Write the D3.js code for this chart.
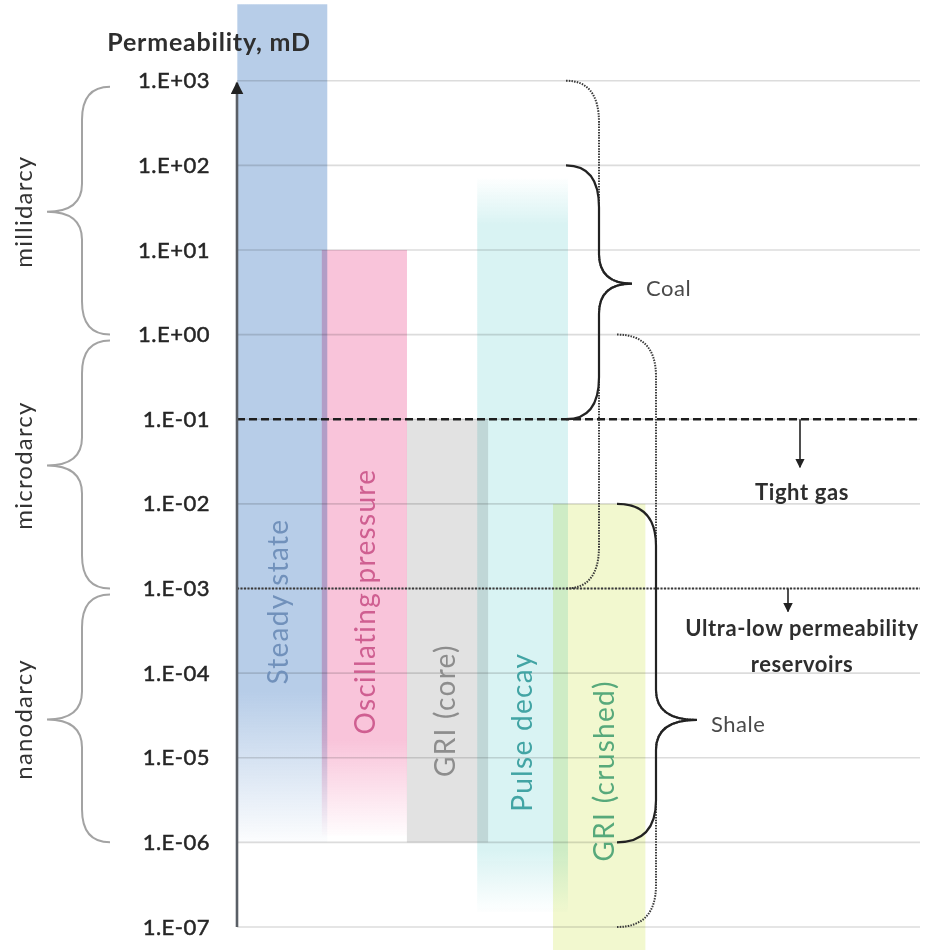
<!DOCTYPE html>
<html>
<head>
<meta charset="utf-8">
<script src="https://d3js.org/d3.v7.min.js"></script>
<style>
    body { margin: 0; background: #fff; }
    #chart-area text { font-family: Lato, "Open Sans", sans-serif; }
</style>
</head>
<body>
<div id="chart-area"></div>
<script>

// ---- data (permeability in mD) ----
let tickValues = [1e3, 1e2, 1e1, 1e0, 1e-1, 1e-2, 1e-3, 1e-4, 1e-5, 1e-6, 1e-7];
let tickLabels = ["1.E+03", "1.E+02", "1.E+01", "1.E+00", "1.E-01", "1.E-02", "1.E-03", "1.E-04", "1.E-05", "1.E-06", "1.E-07"];

let methods = ["Steady state", "Oscillating pressure", "GRI (core)", "Pulse decay", "GRI (crushed)"];
let methodMax = [8000, 10, 0.1, 70, 0.01];
let methodMin = [1e-6, 1.2e-6, 1e-6, 1.5e-7, 5e-8];
// where the colour starts to fade out (null = hard edge)
let methodFadeLow = [6e-5, 1.6e-5, null, 8e-7, null];
let methodFadeHigh = [null, null, null, 20, null];
// where the rotated label sits
let methodLabelAt = [7e-4, 7e-4, 3.6e-5, 2e-5, 7e-6];

// darcy ranges on the left
let darcyNames = ["millidarcy", "microdarcy", "nanodarcy"];
let darcyTop = [1e3, 1e0, 1e-3];
let darcyBottom = [1e0, 1e-3, 1e-6];

// rock types on the right: solid = typical range, dotted = full range
let rockNames = ["Coal", "Shale"];
let rockTip = [4, 2.8e-5];
let rockSolid = [[1e2, 1e-1], [1e-2, 1e-6]];
let rockDotted = [[1e3, 1e-3], [1e0, 1e-7]];

// threshold lines
let thresholdValues = [1e-1, 1e-3];
let thresholdLabels = [["Tight gas"], ["Ultra-low permeability", "reservoirs"]];


class PermeabilityVis {

    constructor(parentElement) {
        this.parentElement = parentElement;
        this.initVis();
    }

    initVis() {
        let vis = this;

        vis.width = 934;
        vis.height = 950;
        vis.axisX = 237;
        vis.right = 920;

        vis.svg = d3.select("#" + vis.parentElement).append("svg")
            .attr("width", vis.width)
            .attr("height", vis.height);

        vis.defs = vis.svg.append("defs");

        // Scales
        vis.y = d3.scaleLog()
            .domain([1e-7, 1e3])
            .range([927, 80.7]);

        vis.x = d3.scaleBand()
            .domain(methods)
            .range([244, 642])
            .paddingInner(0);

        // styles per method (width relative to the band, dx = bar shift, tx = label shift)
        vis.styles = {
            "Steady state":         {fill: "#b7cde8", text: "#7191bb", width: 1.13, dx: -1.5, tx: -7},
            "Oscillating pressure": {fill: "#f9c4da", text: "#cf5f91", width: 1.07, dx: 1, tx: 1},
            "GRI (core)":           {fill: "#e2e2e2", text: "#8d8d8d", width: 1.02, dx: 4.5, tx: 1},
            "Pulse decay":          {fill: "#d9f3f3", text: "#42a4a4", width: 1.14, dx: 0, tx: -2},
            "GRI (crushed)":        {fill: "#f2f8cf", text: "#57a97b", width: 1.16, dx: -3, tx: 1}
        };

        vis.gridGroup = vis.svg.append("g").attr("class", "grid");
        vis.barGroup = vis.svg.append("g").attr("class", "bars");
        vis.lineGroup = vis.svg.append("g").attr("class", "thresholds");
        vis.labelGroup = vis.svg.append("g").attr("class", "bar-labels");
        vis.braceGroup = vis.svg.append("g").attr("class", "braces");

        // y axis labels
        vis.yAxis = d3.axisLeft(vis.y)
            .tickValues(tickValues)
            .tickFormat((d, i) => tickLabels[i])
            .tickSize(0)
            .tickPadding(27);

        vis.yAxisGroup = vis.svg.append("g")
            .attr("class", "y-axis axis")
            .attr("transform", "translate(" + vis.axisX + ",0)");

        // arrow markers
        vis.defs.append("marker")
            .attr("id", "arrow")
            .attr("viewBox", "0 0 10 10")
            .attr("refX", 9)
            .attr("refY", 5)
            .attr("markerWidth", 5)
            .attr("markerHeight", 5)
            .attr("markerUnits", "strokeWidth")
            .attr("orient", "auto")
            .append("path")
            .attr("d", "M0,0 L10,5 L0,10 Z")
            .attr("fill", "#222");

        vis.defs.append("marker")
            .attr("id", "arrow-small")
            .attr("viewBox", "0 0 10 10")
            .attr("refX", 9)
            .attr("refY", 5)
            .attr("markerWidth", 6)
            .attr("markerHeight", 6)
            .attr("markerUnits", "strokeWidth")
            .attr("orient", "auto")
            .append("path")
            .attr("d", "M0,0 L10,5 L0,10 Z")
            .attr("fill", "#222");

        vis.wrangleData();
    }

    wrangleData() {
        let vis = this;

        vis.displayData = methods.map((m, i) => ({
            name: m,
            max: methodMax[i],
            min: methodMin[i],
            fadeLow: methodFadeLow[i],
            fadeHigh: methodFadeHigh[i],
            labelAt: methodLabelAt[i]
        }));

        vis.darcyData = darcyNames.map((n, i) => ({name: n, top: darcyTop[i], bottom: darcyBottom[i]}));

        vis.rockData = rockNames.map((n, i) => ({
            name: n, tip: rockTip[i], solid: rockSolid[i], dotted: rockDotted[i]
        }));

        vis.updateVis();
    }

    // curly brace; x0 = open ends, x1 = spine, x2 = tip
    bracePath(x0, x1, x2, yTop, yTip, yBot, rEnd, rTip) {
        return `M${x0},${yTop} Q${x1},${yTop} ${x1},${yTop + rEnd}`
            + ` L${x1},${yTip - rTip} Q${x1},${yTip} ${x2},${yTip}`
            + ` Q${x1},${yTip} ${x1},${yTip + rTip}`
            + ` L${x1},${yBot - rEnd} Q${x1},${yBot} ${x0},${yBot}`;
    }

    updateVis() {
        let vis = this;

        // gridlines
        vis.gridGroup.selectAll("line")
            .data(tickValues)
            .enter()
            .append("line")
            .attr("x1", vis.axisX)
            .attr("x2", vis.right)
            .attr("y1", d => vis.y(d))
            .attr("y2", d => vis.y(d))
            .attr("stroke", "#dcdcdc")
            .attr("stroke-width", 1.6);

        // gradients for the faded ends
        vis.displayData.forEach((d, i) => {
            let y1 = vis.y(d.max), y2 = vis.y(d.min);
            let col = vis.styles[d.name].fill;
            let grad = vis.defs.append("linearGradient")
                .attr("id", "grad-" + i)
                .attr("gradientUnits", "userSpaceOnUse")
                .attr("x1", 0).attr("x2", 0)
                .attr("y1", y1).attr("y2", y2);
            let stops = [];
            if (d.fadeHigh) {
                stops.push([0, 0.05]);
                stops.push([(vis.y(d.fadeHigh) - y1) / (y2 - y1), 1]);
            } else {
                stops.push([0, 1]);
            }
            if (d.fadeLow) {
                stops.push([(vis.y(d.fadeLow) - y1) / (y2 - y1), 1]);
                stops.push([1, 0.04]);
            } else {
                stops.push([1, 1]);
            }
            stops.forEach(s => {
                grad.append("stop")
                    .attr("offset", s[0])
                    .attr("stop-color", col)
                    .attr("stop-opacity", s[1]);
            });
        });

        // bars
        vis.barGroup.selectAll("rect")
            .data(vis.displayData)
            .enter()
            .append("rect")
            .attr("x", d => vis.x(d.name) + vis.x.bandwidth() / 2 + vis.styles[d.name].dx
                - vis.x.bandwidth() * vis.styles[d.name].width / 2)
            .attr("width", d => vis.x.bandwidth() * vis.styles[d.name].width)
            .attr("y", d => vis.y(d.max))
            .attr("height", d => vis.y(d.min) - vis.y(d.max))
            .attr("fill", (d, i) => "url(#grad-" + i + ")")
            .style("mix-blend-mode", "multiply");

        // threshold lines
        vis.lineGroup.selectAll("line")
            .data(thresholdValues)
            .enter()
            .append("line")
            .attr("x1", vis.axisX)
            .attr("x2", vis.right)
            .attr("y1", d => vis.y(d))
            .attr("y2", d => vis.y(d))
            .attr("stroke", (d, i) => i === 0 ? "#1e1e1e" : "#3a3a3a")
            .attr("stroke-width", (d, i) => i === 0 ? 2.6 : 2)
            .attr("stroke-dasharray", (d, i) => i === 0 ? "8,4" : "2,1.5");

        // threshold arrows and labels
        let arrowX = [800, 788];
        let arrowLen = [48, 23];
        thresholdValues.forEach((v, i) => {
            vis.lineGroup.append("line")
                .attr("x1", arrowX[i]).attr("x2", arrowX[i])
                .attr("y1", vis.y(v))
                .attr("y2", vis.y(v) + arrowLen[i])
                .attr("stroke", "#222")
                .attr("stroke-width", 1.6)
                .attr("marker-end", "url(#arrow-small)");

            vis.lineGroup.selectAll(".thr-label-" + i)
                .data(thresholdLabels[i])
                .enter()
                .append("text")
                .attr("class", "thr-label-" + i)
                .attr("x", 802)
                .attr("y", (d, j) => vis.y(v) + (i === 0 ? 81 : 48) + j * 36)
                .attr("text-anchor", "middle")
                .attr("font-size", "22px")
                .attr("letter-spacing", "0.6px")
                .attr("font-weight", "bold")
                .attr("fill", "#2e2e2e")
                .text(d => d);
        });

        // labels inside bars
        vis.labelGroup.selectAll("text")
            .data(vis.displayData)
            .enter()
            .append("text")
            .attr("transform", d => {
                let cx = vis.x(d.name) + vis.x.bandwidth() / 2 + vis.styles[d.name].tx;
                return "translate(" + cx + "," + vis.y(d.labelAt) + ") rotate(-90)";
            })
            .attr("text-anchor", "middle")
            .attr("dominant-baseline", "central")
            .attr("font-size", "28px")
            .attr("letter-spacing", "1.3px")
            .attr("fill", d => vis.styles[d.name].text)
            .text(d => d.name);

        // y axis
        vis.yAxisGroup.call(vis.yAxis);
        vis.yAxisGroup.select(".domain").remove();
        vis.yAxisGroup.selectAll("text")
            .attr("font-size", "22px")
            .attr("letter-spacing", "0.5px")
            .attr("font-family", "Lato, sans-serif")
            .attr("fill", "#262626")
            .attr("stroke", "#262626")
            .attr("stroke-width", 0.5);

        vis.svg.append("line")
            .attr("x1", vis.axisX).attr("x2", vis.axisX)
            .attr("y1", vis.y(1e-7))
            .attr("y2", vis.y(1e3) + 2)
            .attr("stroke", "#5a5f66")
            .attr("stroke-width", 2.6)
            .attr("marker-end", "url(#arrow)");

        // axis title
        vis.svg.append("text")
            .attr("x", 209)
            .attr("y", 51)
            .attr("text-anchor", "middle")
            .attr("font-size", "25px")
            .attr("letter-spacing", "0.8px")
            .attr("font-weight", "bold")
            .attr("fill", "#2e2e2e")
            .text("Permeability, mD");

        // darcy braces (left, pointing left)
        vis.braceGroup.selectAll(".darcy-brace")
            .data(vis.darcyData)
            .enter()
            .append("path")
            .attr("class", "darcy-brace")
            .attr("d", d => {
                let t = vis.y(d.top) + 6, b = vis.y(d.bottom);
                return vis.bracePath(110, 82, 47, t, (vis.y(d.top) + b) / 2 + 4, b, 33, 28);
            })
            .attr("fill", "none")
            .attr("stroke", "#a3a3a3")
            .attr("stroke-width", 2);

        vis.braceGroup.selectAll(".darcy-label")
            .data(vis.darcyData)
            .enter()
            .append("text")
            .attr("class", "darcy-label")
            .attr("transform", d => "translate(22," + ((vis.y(d.top) + vis.y(d.bottom)) / 2 + 4) + ") rotate(-90)")
            .attr("text-anchor", "middle")
            .attr("dominant-baseline", "central")
            .attr("font-size", "24px")
            .attr("letter-spacing", "1.2px")
            .attr("fill", "#333")
            .text(d => d.name);

        // rock type braces (right, pointing right)
        let braceX = {"Coal": [566, 599, 632], "Shale": [617, 656, 697]};

        vis.rockData.forEach(d => {
            let bx = braceX[d.name];
            let tip = vis.y(d.tip);

            vis.braceGroup.append("path")
                .attr("d", vis.bracePath(bx[0], bx[1], bx[2], vis.y(d.dotted[0]), tip, vis.y(d.dotted[1]), 42, 30))
                .attr("fill", "none")
                .attr("stroke", "#3a3a3a")
                .attr("stroke-width", 2)
                .attr("stroke-dasharray", "1.5,1.2");

            vis.braceGroup.append("path")
                .attr("d", vis.bracePath(bx[0], bx[1], bx[2], vis.y(d.solid[0]), tip, vis.y(d.solid[1]), 42, 30))
                .attr("fill", "none")
                .attr("stroke", "#222")
                .attr("stroke-width", 2.2);

            vis.braceGroup.append("text")
                .attr("x", bx[2] + 14)
                .attr("y", tip + 4)
                .attr("dominant-baseline", "central")
                .attr("font-size", "22px")
                .attr("letter-spacing", "0.5px")
                .attr("fill", "#4a4a4a")
                .text(d.name);
        });
    }
}

let myVis = new PermeabilityVis("chart-area");

</script>
</body>
</html>
